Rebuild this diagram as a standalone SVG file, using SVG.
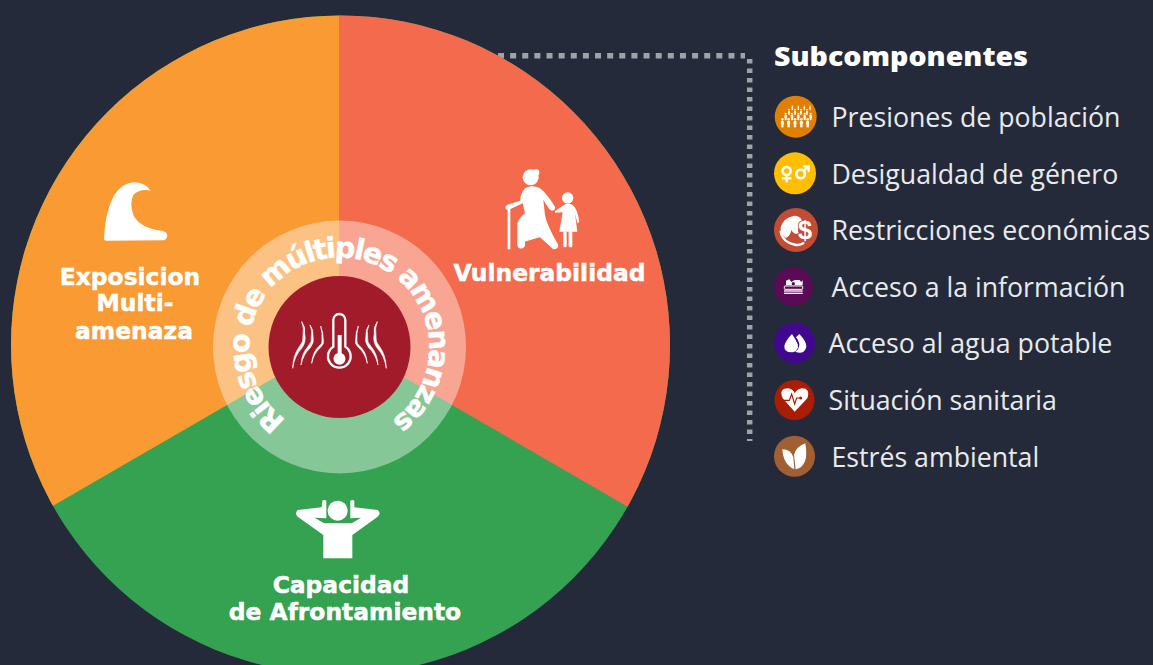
<svg xmlns="http://www.w3.org/2000/svg" xmlns:xlink="http://www.w3.org/1999/xlink" width="1153" height="665" viewBox="0 0 1153 665">
<style>
.lbl{font-family:"DejaVu Sans","Liberation Sans",sans-serif;font-weight:700;font-size:23.4px;fill:#fff;stroke:#fff;stroke-width:.5px;text-anchor:middle}
.leg{font-family:"Open Sans","Noto Sans",sans-serif;font-size:26.7px;fill:#e9eaec}
.ttl{font-family:"Noto Sans","Open Sans",sans-serif;font-size:27px;font-weight:900;fill:#fff}
.ring{font-family:"DejaVu Sans","Liberation Sans",sans-serif;font-weight:700;font-size:28.5px;fill:#fff;stroke:#fff;stroke-width:.5px}
.w{fill:#fff}
.wv{fill:#fff;stroke:#fff;stroke-width:2px}
.wl{fill:none;stroke:#fff;stroke-linecap:round}
</style>
<defs>
<clipPath id="disc"><circle cx="340.500" cy="345" r="329.500"/></clipPath>
<g id="p"><circle cx="0" cy="-11" r="4" class="w"/><rect x="-4.500" y="-6" width="9" height="11" rx="2" class="w"/><rect x="-3.500" y="4" width="7" height="9" class="w"/></g>
<path id="wave1" class="wv" d="M305 335Q313 355 309 376Q312 396 298 410Q279 436 278 475Q284 436 305 415Q320 395 314 372Q318 352 305 335Z"/>
<path id="wave2" class="wv" d="M330 345Q338 362 334 380Q337 395 325 408Q305 430 303 465Q310 432 331 413Q344 397 339 378Q341 360 330 345Z"/>
<path id="wave3" class="wv" d="M362 348Q368 370 366 392Q368 400 358 408Q338 425 335 460Q342 428 362 412Q373 402 370 390Q370 368 362 348Z"/>
<path id="ringpath" d="M286 420A90 90 0 1 1 392.500 420"/>
</defs>
<rect width="1153" height="665" fill="#252a3a"/>
<g id="connectors">
<path d="M498 55.700H745" fill="none" stroke="#a0a2aa" stroke-width="5.500" stroke-dasharray="6 6.130"/>
<path d="M749.700 59V441" fill="none" stroke="#a0a2aa" stroke-width="5.500" stroke-dasharray="4.500 5"/>
</g>
<g id="node-capacidad">
<circle cx="340.500" cy="345" r="329.500" fill="#34a250"/>
<g transform="translate(285 490) scale(.3333)">
<circle cx="158" cy="62" r="30" class="w"/>
<path class="w" d="M38 60L110 52L112 32Q118 28 124 32V85L88 83L118 100H200L228 83L196 85V32Q202 28 208 32L208 52L278 60Q290 70 278 80L202 135V205H115V135L38 80Q28 70 38 60Z"/>
</g>
<text class="lbl" x="341" y="593">Capacidad</text>
<text class="lbl" x="345" y="620">de Afrontamiento</text>
</g>
<g id="node-exposicion">
<path d="M339.500 340V0H0V536.500Z" fill="#f99a33" clip-path="url(#disc)"/>
<g transform="translate(90 170) scale(.3333)">
<path class="w" d="M42 205Q45 130 70 80Q95 38 135 37Q165 38 182 62Q150 55 130 75Q118 100 130 135Q150 175 215 182Q232 185 232 197Q230 211 215 211L50 212Q40 212 42 205Z"/>
</g>
<text class="lbl" x="130" y="285">Exposicion</text>
<text class="lbl" x="135" y="311">Multi-</text>
<text class="lbl" x="134" y="339">amenaza</text>
</g>
<g id="node-vulnerabilidad">
<path d="M339.500 340V0H700V548.500Z" fill="#f36b4c" clip-path="url(#disc)"/>
<g transform="translate(490 160) scale(.3333)">
<circle cx="122" cy="52" r="24" class="w"/><circle cx="138" cy="38" r="10" class="w"/>
<path class="w" d="M105 85Q125 72 150 85Q170 100 195 140Q197 152 185 152Q178 150 170 135L160 120L165 165Q170 195 205 255Q205 268 190 268L150 232Q120 240 105 245V258Q100 268 88 265Q80 262 82 240V190Q90 170 105 160L98 130L55 150Q46 150 46 142Q48 135 60 132L90 122Q92 100 105 85Z"/>
<rect x="53" y="145" width="8" height="123" class="w"/>
<circle cx="233" cy="114" r="17" class="w"/>
<path class="w" d="M225 133Q235 128 248 135Q262 145 268 185L262 190L255 160L262 215H208L218 157L195 158Q193 152 200 150Z"/>
<rect x="220" y="214" width="10" height="48" rx="4" class="w"/><rect x="236" y="214" width="11" height="48" rx="4" class="w"/>
</g>
<text class="lbl" x="549.500" y="281">Vulnerabilidad</text>
</g>
<g id="node-centro">
<circle cx="339.500" cy="347" r="126.500" fill="#fff" fill-opacity=".4"/>
<circle cx="339.500" cy="347" r="71" fill="#a21b2b"/>
<g transform="translate(200 210) scale(.3333)">
<path d="M400 410V330A18 18 0 0 1 436 330V410A34 34 0 1 1 400 410Z" fill="none" stroke="#fff" stroke-width="7"/>
<rect x="413" y="375" width="12" height="70" class="w"/><circle cx="418.500" cy="446" r="18" class="w"/>
<use xlink:href="#wave1" href="#wave1"/><use xlink:href="#wave2" href="#wave2"/><use xlink:href="#wave3" href="#wave3"/>
<g transform="matrix(-1 0 0 1 837 0)"><use xlink:href="#wave1" href="#wave1"/><use xlink:href="#wave2" href="#wave2"/><use xlink:href="#wave3" href="#wave3"/></g>
</g>
<text class="ring"><textPath href="#ringpath" xlink:href="#ringpath" textLength="452" lengthAdjust="spacing">Riesgo de múltiples amenanzas</textPath></text>
</g>
<g id="node-subcomponentes">
<text class="ttl" x="774" y="66" textLength="254" lengthAdjust="spacingAndGlyphs">Subcomponentes</text>
</g>
<g id="node-poblacion">
<circle cx="795.700" cy="116.700" r="21" fill="#e07f00"/>
<g transform="translate(760 90) scale(.3333)">
<g transform="translate(67 99)"><use href="#p" xlink:href="#p"/></g><g transform="translate(86 99)"><use href="#p" xlink:href="#p"/></g><g transform="translate(105 99)"><use href="#p" xlink:href="#p"/></g><g transform="translate(124 99)"><use href="#p" xlink:href="#p"/></g><g transform="translate(143 99)"><use href="#p" xlink:href="#p"/></g>
<g transform="translate(77 80) scale(.8)"><use href="#p" xlink:href="#p"/></g><g transform="translate(96 80) scale(.8)"><use href="#p" xlink:href="#p"/></g><g transform="translate(115 80) scale(.8)"><use href="#p" xlink:href="#p"/></g><g transform="translate(134 80) scale(.8)"><use href="#p" xlink:href="#p"/></g><g transform="translate(152 80) scale(.8)"><use href="#p" xlink:href="#p"/></g>
<g transform="translate(87 66) scale(.65)"><use href="#p" xlink:href="#p"/></g><g transform="translate(105 66) scale(.65)"><use href="#p" xlink:href="#p"/></g><g transform="translate(123 66) scale(.65)"><use href="#p" xlink:href="#p"/></g><g transform="translate(141 66) scale(.65)"><use href="#p" xlink:href="#p"/></g>
<g transform="translate(97 54) scale(.5)"><use href="#p" xlink:href="#p"/></g><g transform="translate(115 54) scale(.5)"><use href="#p" xlink:href="#p"/></g><g transform="translate(133 54) scale(.5)"><use href="#p" xlink:href="#p"/></g><g transform="translate(150 54) scale(.5)"><use href="#p" xlink:href="#p"/></g>
</g>
<text class="leg" x="831.500" y="127">Presiones de población</text>
</g>
<g id="node-genero">
<circle cx="795" cy="173.300" r="21" fill="#ffbe00"/>
<g transform="translate(760 90) scale(.3333)">
<circle cx="80" cy="243" r="12" class="wl" stroke-width="8"/><path d="M80 256V275M68 265H92" class="wl" stroke-width="7"/>
<circle cx="122" cy="252" r="13" class="wl" stroke-width="8"/><path d="M132 242L145 229M132 229H146V243" class="wl" stroke-width="7"/>
</g>
<text class="leg" x="831.500" y="184">Desigualdad de género</text>
</g>
<g id="node-economicas">
<circle cx="796" cy="230" r="22" fill="#c44c34"/>
<g transform="translate(760 90) scale(.3333)">
<path class="w" d="M100 378Q70 384 62 412Q60 432 78 444Q92 436 94 420Q104 436 116 430Q110 412 124 405Q128 392 122 385Q112 376 100 378Z"/>
<path d="M62 425Q68 458 108 465Q118 466 130 460" class="wl" stroke-width="7"/>
<text x="135" y="448" font-family="Liberation Sans,sans-serif" font-weight="700" font-size="76" fill="#fff" stroke="#c44c34" stroke-width="5" paint-order="stroke" text-anchor="middle">$</text>
</g>
<text class="leg" x="831.500" y="240">Restricciones económicas</text>
</g>
<g id="node-informacion">
<circle cx="793.500" cy="286.700" r="19.500" fill="#5b0a56"/>
<g transform="translate(760 260) scale(.3333)">
<path class="w" d="M78 76V62L88 58L94 66L104 60L118 60L124 66L128 60V76Z"/>
<rect x="73" y="78" width="55" height="10" rx="2" fill="none" stroke="#fff" stroke-width="3"/>
<circle cx="100" cy="71" r="5" fill="#5b0a56"/>
<rect x="72" y="91" width="56" height="4" class="w"/><rect x="72" y="98" width="56" height="4" class="w"/>
</g>
<text class="leg" x="831.500" y="297">Acceso a la información</text>
</g>
<g id="node-agua">
<circle cx="794.500" cy="343" r="20.500" fill="#40088c"/>
<g transform="translate(760 260) scale(.3333)">
<path class="w" d="M96 222Q108 240 113 252Q118 272 98 277Q72 278 73 258Q76 242 96 222Z"/>
<path class="w" d="M118 222Q140 245 139 260Q136 278 118 278Q108 278 106 274Q118 268 118 252Q116 240 108 232Z"/>
</g>
<text class="leg" x="828.500" y="353">Acceso al agua potable</text>
</g>
<g id="node-sanitaria">
<circle cx="794.500" cy="400" r="20" fill="#a91d05"/>
<g transform="translate(760 260) scale(.3333)">
<path class="w" d="M104 455L68 415Q55 385 85 385Q100 388 104 400Q110 388 125 385Q152 385 142 415Z"/>
<path d="M62 421H88L95 402L104 432L110 414H122" fill="none" stroke="#a91d05" stroke-width="3.500"/><circle cx="122" cy="414" r="4.500" fill="#a91d05"/>
</g>
<text class="leg" x="828.500" y="410">Situación sanitaria</text>
</g>
<g id="node-ambiental">
<circle cx="794.500" cy="456.300" r="20.500" fill="#a06033"/>
<g transform="translate(760 260) scale(.3333)">
<path class="w" d="M67 568Q92 568 100 592L103 628Q70 615 67 568Z"/>
<path class="w" d="M136 550Q148 620 107 628Q104 600 102 585Q108 560 136 550Z"/>
</g>
<text class="leg" x="831.500" y="467">Estrés ambiental</text>
</g>
</svg>
